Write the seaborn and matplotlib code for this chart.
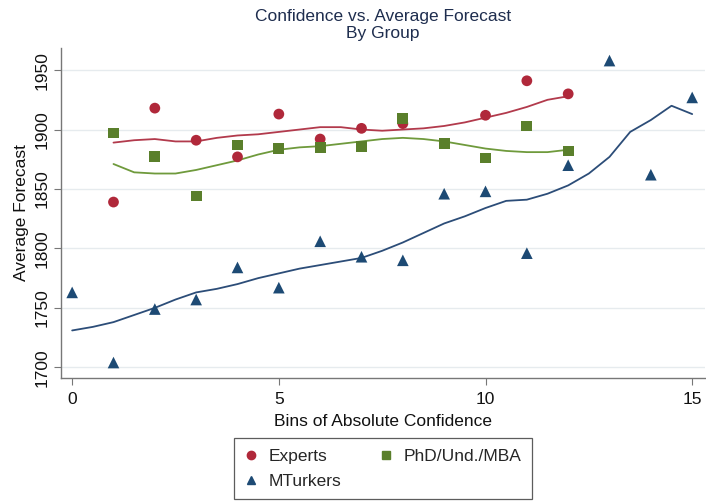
import matplotlib
matplotlib.use("Agg")
import matplotlib.pyplot as plt
import seaborn as sns
import pandas as pd
from matplotlib.lines import Line2D

# ---- data ----
bins_exp = [1, 2, 3, 4, 5, 6, 7, 8, 10, 11, 12]
experts = [1839, 1918, 1891, 1877, 1913, 1892, 1901, 1905, 1912, 1941, 1930]

bins_phd = [1, 2, 3, 4, 5, 6, 7, 8, 9, 10, 11, 12]
phd = [1897, 1877, 1844, 1887, 1884, 1885, 1886, 1909, 1888, 1876, 1903, 1882]

bins_mt = [0, 1, 2, 3, 4, 5, 6, 7, 8, 9, 10, 11, 12, 13, 14, 15]
mturk = [1763, 1704, 1749, 1757, 1784, 1767, 1806, 1793, 1790, 1846, 1848, 1796, 1870, 1958, 1862, 1927]

# smoothed (lowess) curves
fit_exp_x = [1, 1.5, 2, 2.5, 3, 3.5, 4, 4.5, 5, 5.5, 6, 6.5, 7, 7.5, 8, 8.5, 9, 9.5, 10, 10.5, 11, 11.5, 12]
fit_exp_y = [1889, 1891, 1892, 1890, 1890, 1893, 1895, 1896, 1898, 1900, 1902, 1902, 1900, 1899, 1900, 1901, 1903, 1906, 1910, 1914, 1919, 1925, 1928]

fit_phd_x = [1, 1.5, 2, 2.5, 3, 3.5, 4, 4.5, 5, 5.5, 6, 6.5, 7, 7.5, 8, 8.5, 9, 9.5, 10, 10.5, 11, 11.5, 12]
fit_phd_y = [1871, 1864, 1863, 1863, 1866, 1870, 1874, 1879, 1883, 1885, 1886, 1888, 1890, 1892, 1893, 1892, 1890, 1887, 1884, 1882, 1881, 1881, 1883]

fit_mt_x = [0, 0.5, 1, 1.5, 2, 2.5, 3, 3.5, 4, 4.5, 5, 5.5, 6, 6.5, 7, 7.5, 8, 8.5, 9, 9.5, 10, 10.5, 11, 11.5, 12, 12.5, 13, 13.5, 14, 14.5, 15]
fit_mt_y = [1731, 1734, 1738, 1744, 1750, 1757, 1763, 1766, 1770, 1775, 1779, 1783, 1786, 1789, 1792, 1798, 1805, 1813, 1821, 1827, 1834, 1840, 1841, 1846, 1853, 1863, 1877, 1898, 1908, 1920, 1913]

labels = ["Experts", "MTurkers", "PhD/Und./MBA"]
xticks = [0, 5, 10, 15]
yticks = [1700, 1750, 1800, 1850, 1900, 1950]

# ---- style ----
sns.set_style("white")
plt.rcParams["font.family"] = ["Liberation Sans", "DejaVu Sans"]

c_red = "#b0283a"
c_green = "#5a7f2b"
c_blue = "#1d4a74"
l_red = "#b23a4c"
l_green = "#6f9a3c"
l_blue = "#2c4d78"

fig = plt.figure(figsize=(7.06, 5.01), dpi=100)
ax = fig.add_axes([0.0864, 0.2455, 0.9116, 0.6585])

pts_e = pd.DataFrame({"x": bins_exp, "y": experts})
pts_p = pd.DataFrame({"x": bins_phd, "y": phd})
pts_m = pd.DataFrame({"x": bins_mt, "y": mturk})

for y in yticks:
    ax.axhline(y, color="#e6ebee", lw=1.0, zorder=0)

sns.lineplot(x=fit_exp_x, y=fit_exp_y, ax=ax, color=l_red, lw=1.3, zorder=2)
sns.lineplot(x=fit_phd_x, y=fit_phd_y, ax=ax, color=l_green, lw=1.3, zorder=2)
sns.lineplot(x=fit_mt_x, y=fit_mt_y, ax=ax, color=l_blue, lw=1.3, zorder=2)

sns.scatterplot(data=pts_e, x="x", y="y", ax=ax, color=c_red, marker="o", s=60, edgecolor="none", zorder=3)
sns.scatterplot(data=pts_p, x="x", y="y", ax=ax, color=c_green, marker="s", s=60, edgecolor="none", zorder=4)
sns.scatterplot(data=pts_m, x="x", y="y", ax=ax, color=c_blue, marker="^", s=70, edgecolor="none", zorder=3)

ax.set_xlim(-0.27, 15.3)
ax.set_ylim(1691, 1968.5)
ax.set_xticks(xticks)
ax.set_yticks(yticks)
ax.set_yticklabels([str(v) for v in yticks], rotation=90, va="center")
ax.tick_params(axis="both", direction="out", length=5, width=0.8, color="#777777",
               labelsize=12.5, labelcolor="#111111", left=True, bottom=True)
ax.tick_params(axis="y", pad=3)
ax.tick_params(axis="x", pad=5)
for s in ["top", "right"]:
    ax.spines[s].set_visible(False)
for s in ["left", "bottom"]:
    ax.spines[s].set_color("#777777")
    ax.spines[s].set_linewidth(1.0)

ax.set_xlabel("Bins of Absolute Confidence", fontsize=12.5, color="#111111", labelpad=5)
ax.set_ylabel("Average Forecast", fontsize=12.5, color="#111111", labelpad=4)
ax.set_title("Confidence vs. Average Forecast\nBy Group", fontsize=12.5, color="#1e2d4e",
             linespacing=1.2, pad=7)

handles = [
    Line2D([], [], ls="none", marker="o", color=c_red, markersize=6),
    Line2D([], [], ls="none", marker="^", color=c_blue, markersize=6),
    Line2D([], [], ls="none", marker="s", color=c_green, markersize=6),
]
leg = fig.legend(handles, labels, ncol=2, loc="lower center", bbox_to_anchor=(0.542, 0.004),
                 fontsize=12.5, frameon=True, fancybox=False, edgecolor="#333333",
                 handlelength=0.8, handletextpad=0.6, columnspacing=2.2, labelspacing=0.55,
                 borderpad=0.6, borderaxespad=0)
leg.get_frame().set_linewidth(0.9)

fig.savefig("out.png", dpi=100)
